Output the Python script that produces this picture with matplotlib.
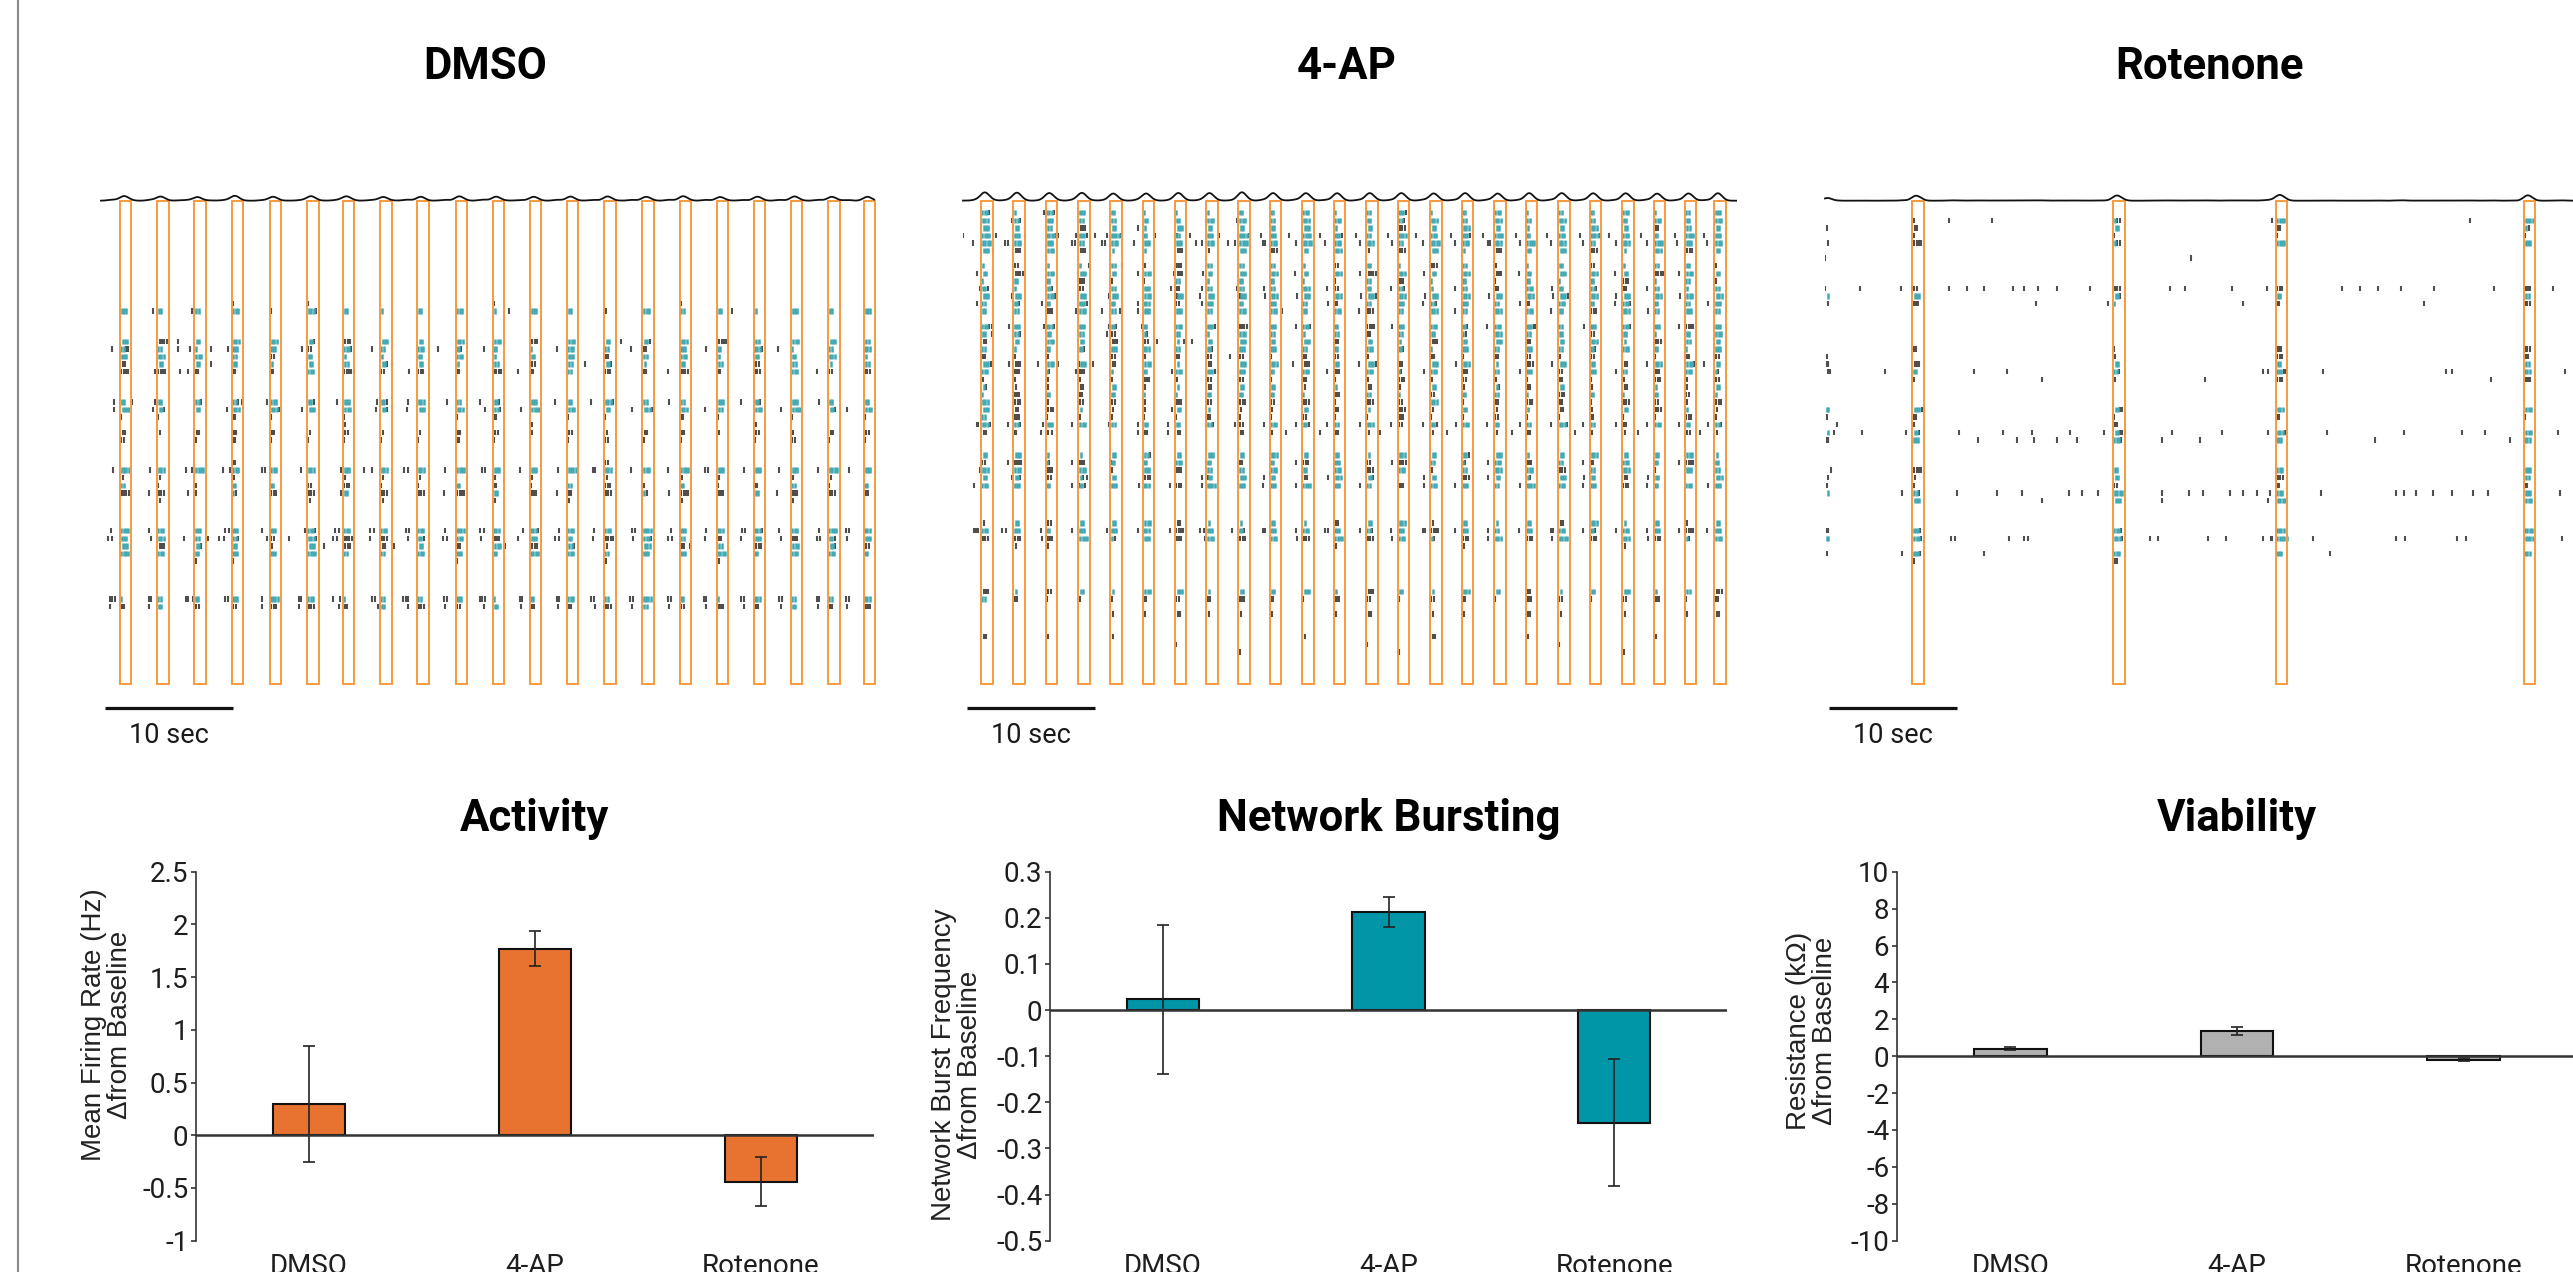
import numpy as np
import matplotlib.pyplot as plt
from matplotlib.patches import Rectangle
from matplotlib.lines import Line2D

# ---------------------------------------------------------------------------
# data
# ---------------------------------------------------------------------------
conditions = ["DMSO", "4-AP", "Rotenone"]

# network burst start times (s) in each raster
dmso_bursts = [1.48, 4.38, 7.29, 10.2, 13.17, 16.1, 18.9, 21.8, 24.7, 27.7, 30.6,
               33.5, 36.4, 39.3, 42.3, 45.2, 48.1, 51.0, 53.9, 56.8, 59.6]
ap_bursts = [1.41, 3.93, 6.46, 9.01, 11.51, 14.04, 16.56, 19.01, 21.51, 23.95, 26.5,
             28.95, 31.5, 33.95, 36.5, 38.95, 41.5, 43.95, 46.5, 48.95, 51.5, 53.95,
             56.4, 58.7]
rot_bursts = [6.82, 22.5, 35.2, 54.6]

# spikes per electrode row inside each network burst (one token per burst):
# digit = teal (burst) spikes, letter = grey spikes (a=1, b=2 ...), "." = none
dmso_rows = [12, 13, 17, 18, 19, 20, 21, 25, 26, 27, 28, 29, 30, 33, 34, 35, 36, 37, 38,
             42, 43, 44, 45, 46, 51, 52]
dmso_tokens = [
    ". . . a . a . . . . a . . . . a . . . . .",
    "3 2 2 3 a 3a 2 1 2 3 1 3 2 a 3 2 2 1 3 2 3",
    "3 d 2 3 3 2a c 3 2 3 3 c 3 2 2a 3 d 2 3 3 2",
    "2b 2 1 3 3 b 3a 2 3 2a 2 1 3 2 b 3 2 3a 1 2 3",
    "3 3 3 2 b 2 1 1 2 3 1 2 3 b 2 3 1 2 2 3 1",
    "b 2 2 2 1 2 2 2a 2 1 2 b 2 2a 1 2 2 b 2 1 2",
    "d d b b b 3 d b c b d b 2 c b d b c 3 b c",
    "2 2 2a 2a 3 2a 3 2a 3 2 2a 3 2 3a 2 2 3 2a 3 2 2",
    "4 2a 2 3 3a 3 3 2a 3 3 2a 4 3 2 3a 3 2 3 4 2a 3",
    "a a . b a . a . . a b . a a . b a . a . a",
    ". . . . . . a . . . . a . . . . . a . . .",
    "b a b b b a b a a b b a b a b b a b a b b",
    "b . a b a a a a a b a . a b a a . a b a a",
    ". . . b . . . . . . . . . b . . . . . . .",
    "4 3 4 3 3 3 3 3 3 4 3 3 4 3 3 4 3 3 3 4 3",
    "a a . a . . a a a . a a . a . a a . a a .",
    "2 a a 2 2 b c a a 2 b a 2 c a 2 a b 2 a 2",
    "d c a 1a c c 2 c c d 2 c b c 1a d c 2 c c b",
    ". a . . . a . a . . a . a . . a . . a . .",
    "4 3 3 3 3 3a 3 3 3 4 3 3a 3 3 4 3 3 3a 3 4 3",
    "3 3 2 2a b 3a d c 2a 3 c 3 2 d 3a 2 b 3 c 2a 3",
    "3 c 2a 2 a 3 c b 2 b 3 c 2a a 3 b 2 c 3 2a b",
    "4 3 2 3 3 4 2 2 3 3 2 4 3 2 3 3 4 2 3 3 2",
    ". . a a . . . . . a . . . a . . a . . . .",
    "1 2 2 3 4 3 1 2 2 3 1 2 3 2 4 2 1 3 2 2 3",
    "b 2 b b c c b 2 c b 2 b b c 2 b c b 2 b c",
]
# grey spikes outside the network bursts: (row, times)
dmso_iso = [
    (13, [4.09, 7.14, 31.9, 49.3]), (17, [6.04, 40.6]),
    (18, [0.89, 6.04, 6.95, 8.59, 9.95, 15.73, 21.15, 26.3, 29.9, 35.6, 41.4, 47.3,
          52.9]),
    (20, [8.59, 22.76, 37.8]), (21, [4.22, 6.17, 6.82, 19.79, 24.1, 32.6, 44.3, 55.9]),
    (25, [1.0, 2.4, 4.22, 10.99, 12.99, 18.46, 21.6, 24.0, 27.0, 29.6, 35.5, 38.3, 44.4,
          50.0, 56.1]),
    (26, [1.0, 4.09, 9.82, 15.73, 18.88, 21.48, 23.9, 30.0, 32.8, 41.5, 47.2, 53.1,
          58.3]),
    (34, [0.96, 3.83, 6.61, 7.14, 9.5, 10.08, 12.55, 12.8, 15.6, 18.72, 20.57, 21.15,
          23.7, 24.0, 26.9, 29.8, 30.0, 32.7, 35.7, 38.4, 38.6, 41.4, 44.3, 47.2, 47.4,
          50.2, 53.0, 56.0, 58.4]),
    (37, [3.78, 6.82, 18.75, 26.8, 35.6, 44.4, 52.8]),
    (42, [0.76, 3.78, 9.69, 10.0, 12.55, 15.94, 18.28, 18.59, 21.04, 21.35, 23.8, 24.1,
          26.9, 29.6, 29.9, 33.0, 35.8, 38.5, 41.5, 41.7, 44.5, 47.3, 50.1, 50.3, 53.0,
          56.1, 58.2, 58.4]),
    (43, [0.57, 0.89, 3.91, 6.51, 8.33, 9.24, 9.64, 12.99, 14.69, 18.15, 18.46, 21.04,
          24.0, 26.7, 27.0, 29.7, 32.6, 35.5, 35.8, 38.4, 41.6, 44.3, 44.6, 47.2, 50.0,
          53.1, 55.9, 56.2, 58.3]),
    (44, [17.39, 22.92, 31.6, 46.0]),
    (51, [0.70, 0.89, 1.09, 3.78, 3.91, 6.61, 6.82, 7.21, 9.69, 9.95, 12.55, 15.47,
          15.6, 18.15, 18.67, 21.2, 21.41, 23.6, 23.8, 24.0, 26.8, 27.0, 29.6, 29.8,
          30.0, 32.7, 32.9, 35.6, 35.8, 38.3, 38.5, 41.3, 41.6, 44.3, 44.5, 47.1, 47.3,
          50.0, 50.2, 53.0, 53.2, 55.9, 56.1, 58.2, 58.4]),
    (52, [0.70, 3.78, 10.29, 12.55, 15.47, 18.62, 21.67, 24.0, 26.9, 29.9, 32.8, 35.7,
          38.6, 41.5, 44.4, 47.3, 50.2, 53.1, 56.0, 58.3]),
]

ap_rows = [0, 1, 2, 3, 4, 5, 7, 8, 9, 10, 11, 12, 13, 15, 16, 17, 18, 19, 20, 21, 22,
           23, 24, 25, 26, 27, 28, 29, 32, 33, 34, 35, 36, 41, 42, 43, 44, 50, 51, 53,
           56, 57, 58]
ap_tokens = [
    "3a 1 3a 3 2 1 1 1 2 2 3 1 2 3a 1 2 3 1 2 2 3 1 2 3",
    "3 2a 3 2 2 2 2 3 3 2 3 3 2 2a 3 2 3 2 3 2 2 3 2 3",
    "3 2 2 c 2 1 3 2 2 2 3 1 2 c 2 3 2 1 2 3 2 b 2 2",
    "4 3 4a 3a 4a 2 2 3 4a 3 4 3a 2 4 3 3a 4 2 3 4a 3 2 4 3",
    "4 3 3 2 3 3 3 3 4 3 4 3 3 2 4 3 3 4 3 2 3 4 3 3",
    "3 c 3 c 1 1 c a 3 c 2 3 a c 3 1 c 2 3 c 1 3 c 2",
    "1 b 1 1 2 a c 2 2 2 1 b 2 1 c 2 a 1 2 b 1 2 2 a",
    "2 d 3 3 2 3 c 2 3 3 2 3 d 3 2 3 c 2 3 3 2 d 3 2",
    "1 2 2 c a a 2 1 2 2 1 a 2 c 1 2 a 2 1 2 c 1 2 a",
    "2a 1 2a b 2 3 b 2 2 2 3 b 2 2a 1 2 b 3 2 2a b 2 1 2",
    "3 3 3a 3 3 3 3 3 3 3 3 3 3a 3 3 3 3 3 3a 3 3 3 3 3",
    "2 2a 2 3a 2 3 b 3 2 3 2 b 2 3 2a 3 2 b 3 2 3a 2 2 3",
    "2 2 c 3 2 3 3 2 3 3 2 3 c 2 3 2 3 3 2 c 3 2 3 2",
    "3b 3 3a 3 2a 2 3 3a d 3 3a 2 d 3 3 2a 3 3b 2 3 3a 3 d 3",
    "2 2a 2 2 b 1a 2 1 3 2 1 2 b 2 2 1a 3 2 2 b 2 1 2 3",
    "b 2 3 2 c b 1 2 3 2 3 b 2 1 c 2 3 b 2 3 1 c 2 2",
    "2 1 2 2a 3 3 2 2a 3 3 2 2 3 2a 1 3 2 3 2 2a 3 2 1 3",
    "b a a . b a b b b a b b a . b a b b a b . a b b",
    "3a c 3 3 b 3 1 b 3 3 c 2 3a b 3 3 1 c 3 2 b 3 3a 2",
    "3 c 1a c 1 2 3 3a 3 2 3 c 3 1a 3 c 2 3 b 3 2 c 3 1a",
    "a a a a a c a b b a b a a c a b a a b a a c a b",
    "1a a a b 2 a 1 b 2 2 a 1 b a 2 a 1a b 2 a b 1 a 2",
    "1 c 2 b 2 1 1 2 2 2 1 c 2 1 b 2 2 1 c 2 1 2 b 1",
    "3 c a b b a c b c b c a c b 3 a b c b a c b a c",
    "3 b c 1 a a 2 1 a a 2 b 1 c a 2 a 1 b a 2 c 1 a",
    "2 c a a a a a b a a b a a c a a b a a b a a c a",
    "3a 2a 3 3 2 2 2 2a b 3 2a 2 3 b 2a 3 2 2 3a 2 b 3 2 2a",
    "b a a . . a a . b a . b a . a . a b . a a . b a",
    "2 3 1 1 2 2a 2 3 2 3 2 2 1 3 2 2a 3 1 2 3 2 2 3 1",
    "b d 1a c 2 2 3 2 b 2 c 3 b d 2 1a 3 c 2 b 3 2 d 2",
    "3 3 c 3 a 3 c 2 2 3 2 3 c 3 a 2 3 3 c 2 3 a 3 2",
    "2 2a b 1a 2 c . 2 3 2 b 3 2a . 2 c 2 1a 3 2 b 2 . 3",
    "3 3 2 2 3 3 c 4 3 3 4 3 2 c 3 3 2 4 3 3 c 2 3 3",
    "a 2 b 2 2 3 b 1 1 2 1 b 2 3 a 2 1 2 b 3 1 2 a 2",
    "3 3 2 3 3 3 d 3 2a 3 3 3 2a 3 d 3 2 3 3 2a 3 3 d 3",
    "c c c 4 1a 3 c 3 c 3 c 4 c 3 1a c 3 c 4 c 3 c 1a 3",
    ". a a . . . . . . . . a . . . a . . . . a . . .",
    "c 1 b 2 1 3 3 1 2 2 3 1 c 2 1 3 2 b 1 2 3 1 2 c",
    "2 b a a a b b b c b a c b a b b a c b a b c a b",
    ". . . . a a b a a a . a b . a a . b a . a . a b",
    "b . a . a . . . . . a . . . b . . a . . . a . .",
    ". . . . . . a . . . . . a . . . . . a . . . . .",
    ". . . . . . . . a . . . . a . . . . . . a . . .",
]
ap_iso = [
    (0, [6.35]), (1, [3.8, 18.96, 21.38]), (2, [13.65]),
    (3, [0.03, 2.58, 4.84, 7.45, 8.8, 10.31, 11.22, 15.0, 16.69, 17.73, 20.0, 23.3,
         25.5, 27.9, 30.7, 33.2, 35.4, 38.1, 40.6, 43.2, 45.6, 48.2, 50.5, 53.0, 55.6,
         57.9]),
    (4, [0.81, 3.28, 3.49, 8.49, 8.75, 10.83, 11.09, 13.36, 18.18, 18.65, 20.73, 21.25,
         23.4, 23.6, 26.0, 28.3, 31.0, 33.5, 35.9, 38.4, 41.0, 41.2, 43.5, 45.9, 48.4,
         51.0, 53.4, 55.8, 58.1]),
    (5, [2.32]), (7, [9.87, 12.4]),
    (8, [1.12, 8.96, 13.65, 16.51, 18.78, 25.9, 31.0, 36.0, 43.4, 50.9, 55.9]),
    (10, [1.33, 16.25, 18.65, 21.38, 23.5, 28.4, 33.4, 38.4, 46.0, 53.4]),
    (11, [3.8, 8.96, 11.41, 16.69, 18.52, 21.64, 23.6, 26.1, 31.1, 36.1, 41.1, 46.1,
          51.0, 56.0]),
    (12, [1.07, 6.2, 13.65, 18.65, 28.5, 35.9, 43.5, 50.9, 58.2]),
    (13, [8.8, 10.88, 12.27, 13.65, 24.9, 30.9, 38.4, 45.9, 53.5]),
    (15, [3.62, 6.35, 11.41, 13.96, 26.0, 33.5, 40.9, 48.5, 55.9]),
    (16, [2.29, 11.22, 18.96]), (17, [15.13, 17.29, 17.86]), (19, [20.86]),
    (20, [3.62, 5.89, 7.4, 9.06, 10.13, 25.8, 30.9, 38.5, 46.0, 53.4, 57.9]),
    (21, [8.8, 16.35, 19.95, 28.4, 36.0, 43.5, 51.0]), (26, [16.35]),
    (28, [1.07, 1.2, 3.49, 6.28, 8.49, 11.41, 13.7, 14.09, 16.04, 18.96, 21.25, 23.5,
          26.0, 28.4, 31.0, 33.4, 35.9, 38.5, 40.9, 43.5, 45.9, 48.4, 51.0, 53.4, 55.9,
          58.2]),
    (29, [4.06, 6.09, 6.98, 13.65, 14.4, 16.04, 16.98, 25.2, 27.9, 32.6, 37.8, 42.9,
          47.8, 52.7, 57.6]),
    (33, [3.49, 8.49, 11.56, 18.96, 26.0, 33.5, 41.0, 48.4, 55.9]), (34, [1.33, 11.56]),
    (35, [3.8, 9.01, 9.71, 11.48, 18.65, 19.11, 23.5, 28.5, 36.0, 41.0, 48.5, 53.5]),
    (36, [0.89, 8.49, 9.06, 9.53, 11.48, 13.75, 16.17, 18.65, 23.4, 26.0, 31.0, 36.0,
          38.4, 43.5, 48.4, 53.4, 58.2]),
    (42, [0.89, 1.02, 1.15, 3.02, 3.33, 6.07, 8.49, 11.22, 13.7, 16.17, 18.52, 18.85,
          21.04, 23.4, 23.6, 26.0, 28.3, 28.5, 31.0, 33.4, 35.9, 36.1, 38.4, 41.0, 43.4,
          45.9, 46.1, 48.4, 51.0, 53.4, 55.9, 58.1]),
    (43, [6.2, 18.91, 21.51, 26.1, 33.5, 41.0, 46.0, 53.5]),
]

rot_rows = [1, 2, 3, 4, 10, 11, 12, 18, 19, 20, 21, 22, 26, 27, 28, 29, 30, 34, 35, 36,
            37, 38, 42, 43, 45, 46]
rot_tokens = [
    "a 1b 4 4", "b 2 b 1a", "a a a a", "d 1b 4 3", "b c c c", "3 2a 2 2", "c 1 b c",
    "b a c c", ". a c b", "c 2 2 2", "2 2a 3b 3", "a a c c", "3a 2b 3 3", "b a b a",
    "a b . .", "2a 2c 3a 3", "3 3a 3 3", "d 2 3 3", "a 2 c 2", "a b b b", "2a 4 3 3",
    "3 3 4 3", "3a 3a 4 4", "3a 3a 5 4", "3a 3 3 3", "a b . .",
]
rot_iso = [
    (1, [9.69, 13.02, 34.95, 50.4]), (2, [0.13]), (4, [0.26]), (6, [0.0, 28.6]),
    (10, [0.0, 2.73, 5.91, 6.77, 9.69, 11.07, 12.42, 14.69, 15.57, 16.61, 18.15, 20.73,
          26.93, 28.13, 31.77, 34.5, 40.4, 41.8, 43.2, 45.0, 47.6, 52.3, 56.9]),
    (12, [0.26, 16.48, 22.08, 32.68, 46.8]), (19, [0.13]), (20, [0.13, 0.2, 0.26]),
    (21, [0.26, 0.33, 0.39, 4.69, 11.64, 14.22, 34.19, 34.64, 38.88, 48.5, 49.0, 57.8]),
    (22, [16.97, 29.68, 52.0]), (27, [0.13]), (28, [0.91]),
    (29, [0.73, 2.86, 6.33, 10.44, 13.93, 16.2, 19.14, 21.77, 27.08, 31.04, 34.64,
          39.19, 45.2, 49.8, 51.6, 57.3]),
    (30, [0.13, 0.2, 0.26, 11.95, 14.97, 16.33, 18.15, 19.66, 26.33, 29.3, 43.0, 53.5]),
    (34, [0.44]), (35, [0.26]), (36, [0.18]),
    (37, [6.04, 10.29, 13.46, 15.42, 19.06, 20.1, 21.3, 26.33, 28.44, 29.5, 31.64,
          32.68, 33.72, 34.77, 38.72, 44.6, 45.2, 46.2, 47.5, 49.0, 50.6, 51.8, 57.4]),
    (38, [16.97, 26.33, 34.64]), (42, [0.13, 0.2, 0.26]),
    (43, [9.82, 10.16, 14.38, 15.55, 15.89, 25.39, 25.99, 29.95, 31.3, 34.19, 34.83,
          34.95, 38.1, 44.6, 45.3, 49.4, 50.1, 57.6]),
    (45, [0.13, 6.04, 12.42, 39.45]),
]
rot_iso_teal = [(11, [0.21]), (26, [0.13, 0.2]), (29, [0.21]), (37, [0.21]),
                (43, [0.13, 0.2])]

# bar charts (change from baseline, mean +/- error)
mfr_vals = [0.30, 1.77, -0.44]
mfr_errs = [0.55, 0.165, 0.235]
nbf_vals = [0.023, 0.213, -0.244]
nbf_errs = [0.162, 0.033, 0.137]
res_vals = [0.40, 1.36, -0.18]
res_errs = [0.08, 0.20, 0.07]

mfr_ticks = [2.5, 2, 1.5, 1, 0.5, 0, -0.5, -1]
mfr_labels = ["2.5", "2", "1.5", "1", "0.5", "0", "-0.5", "-1"]
nbf_ticks = [0.3, 0.2, 0.1, 0, -0.1, -0.2, -0.3, -0.4, -0.5]
nbf_labels = ["0.3", "0.2", "0.1", "0", "-0.1", "-0.2", "-0.3", "-0.4", "-0.5"]
res_ticks = [10, 8, 6, 4, 2, 0, -2, -4, -6, -8, -10]
res_labels = ["10", "8", "6", "4", "2", "0", "-2", "-4", "-6", "-8", "-10"]

# ---------------------------------------------------------------------------
W, H = 2573, 1272
fig = plt.figure(figsize=(W / 100, H / 100), dpi=100)

TEAL_TICK = "#3fa8b5"
GREY_TICK = "#4f4f4f"
BOX = "#f89a3c"
TITLE_FONT = dict(family="Roboto", weight="bold", size=31.5)
PX_PER_S = 12.8
T_MAX = 60.4


def add_ax(x0, y0, x1, y1):
    # pixel box (origin top-left) -> figure axes
    return fig.add_axes([x0 / W, 1 - y1 / H, (x1 - x0) / W, (y1 - y0) / H])


def parse(tok):
    if tok == ".":
        return 0, 0
    n_teal = int(tok[0]) if tok[0].isdigit() else 0
    n_grey = ord(tok[-1]) - 96 if tok[-1].isalpha() else 0
    return n_teal, n_grey


ROW_TOP, ROW_BOT = -1.585, 62.25   # box top / bottom in row units


def raster(x0, title, bursts, rows, tokens, iso, iso_teal=()):
    ax = add_ax(x0, 200.7, x0 + T_MAX * PX_PER_S, 684)
    ax.set_xlim(0, T_MAX)
    ax.set_ylim(ROW_BOT, ROW_TOP)
    ax.axis("off")

    teal_t, teal_r, grey_t, grey_r = [], [], [], []
    for row, tok_str in zip(rows, tokens):
        toks = tok_str.split()
        assert len(toks) == len(bursts)
        shift = (row % 3) * 0.05
        for start, tok in zip(bursts, toks):
            n_teal, n_grey = parse(tok)
            for i in range(n_teal + n_grey):
                t = start + 0.1 + shift + 0.18 * i
                if i < n_teal:
                    teal_t.append(t); teal_r.append(row)
                else:
                    grey_t.append(t); grey_r.append(row)
    for row, times in iso:
        grey_t += times; grey_r += [row] * len(times)
    for row, times in iso_teal:
        teal_t += times; teal_r += [row] * len(times)

    teal_t, teal_r = np.array(teal_t), np.array(teal_r)
    grey_t, grey_r = np.array(grey_t), np.array(grey_r)
    ax.vlines(grey_t, grey_r - 0.36, grey_r + 0.36, color=GREY_TICK, lw=1.5)
    ax.vlines(teal_t, teal_r - 0.36, teal_r + 0.36, color=TEAL_TICK, lw=1.8)

    for start in bursts:
        ax.add_patch(Rectangle((start, ROW_TOP), 0.9, ROW_BOT - ROW_TOP, fill=False,
                               ec=BOX, lw=1.4, clip_on=False, zorder=3))

    # spike-rate trace along the top (smoothed count of all spikes)
    grid = np.linspace(0, T_MAX, 3021)
    all_t = np.concatenate([teal_t, grey_t])
    rate = np.exp(-(grid[:, None] - all_t[None, :]) ** 2 / (2 * 0.3 ** 2)).sum(axis=1)
    ax.plot(grid, ROW_TOP - rate * 0.75 / 60, color="#111111", lw=1.3,
            clip_on=False, zorder=4)

    # 10 s scale bar
    ax.plot([0.3, 10.3], [65.4, 65.4], color="#111111", lw=2.3, clip_on=False,
            solid_capstyle="butt")
    ax.text(5.3, 70.0, "10 sec", ha="center", va="baseline", family="Roboto",
            size=19.5, color="#1a1a1a", clip_on=False)
    fig.text((x0 + 384) / W, 1 - 79 / H, title, ha="center", va="baseline",
             **TITLE_FONT)


raster(101, conditions[0], dmso_bursts, dmso_rows, dmso_tokens, dmso_iso)
raster(963, conditions[1], ap_bursts, ap_rows, ap_tokens, ap_iso)
raster(1825, conditions[2], rot_bursts, rot_rows, rot_tokens, rot_iso, rot_iso_teal)


def bar_panel(x0, x1, title, vals, errs, color, ticks, labels, ylabel, label_xy):
    ax = add_ax(x0, 871.7, x1, 1240.7)
    ax.set_xlim(-0.5, 2.5)
    ax.set_ylim(ticks[-1], ticks[0])
    x = np.arange(len(conditions))
    ax.bar(x, vals, width=0.32, color=color, edgecolor="#111111", linewidth=1.5,
           zorder=2)
    ax.errorbar(x, vals, yerr=errs, fmt="none", ecolor="#222222", elinewidth=1.2,
                capsize=4.5, capthick=1.2, zorder=3)
    ax.axhline(0, color="#333333", lw=1.8, zorder=4)
    for s in ("top", "right", "bottom"):
        ax.spines[s].set_visible(False)
    ax.spines["left"].set_color("#333333")
    ax.spines["left"].set_linewidth(1.2)
    ax.set_yticks(ticks)
    ax.set_yticklabels(labels, family="Roboto", size=20, color="#1e1e1e")
    ax.tick_params(axis="y", direction="out", length=3.5, width=1.2, color="#333333",
                   pad=2)
    ax.set_xticks(x)
    ax.set_xticklabels(conditions, family="Roboto", size=20, color="#1e1e1e")
    ax.tick_params(axis="x", length=0, pad=9)
    fig.text((x0 + x1) / 2 / W, 1 - 831 / H, title, ha="center", va="baseline",
             **TITLE_FONT)
    fig.text(label_xy[0] / W, 1 - label_xy[1] / H, ylabel, rotation=90, ha="center",
             va="center", multialignment="center", family="Liberation Sans",
             size=20, linespacing=1.0, color="#222222")


bar_panel(196, 874, "Activity", mfr_vals, mfr_errs, "#e87331", mfr_ticks, mfr_labels,
          "Mean Firing Rate (Hz)\n\u0394from Baseline", (107, 1025))
bar_panel(1050, 1727, "Network Bursting", nbf_vals, nbf_errs, "#0096a8", nbf_ticks,
          nbf_labels, "Network Burst Frequency\n\u0394from Baseline", (957, 1065))
bar_panel(1897, 2577, "Viability", res_vals, res_errs, "#b1b1b1", res_ticks,
          res_labels, "Resistance (k\u03a9)\n\u0394from Baseline", (1812, 1031))

# thin grey rule at the left edge
fig.add_artist(Line2D([18 / W, 18 / W], [0, 1], color="#8a8a8a", lw=1.5))

fig.savefig("out.png", dpi=100)
